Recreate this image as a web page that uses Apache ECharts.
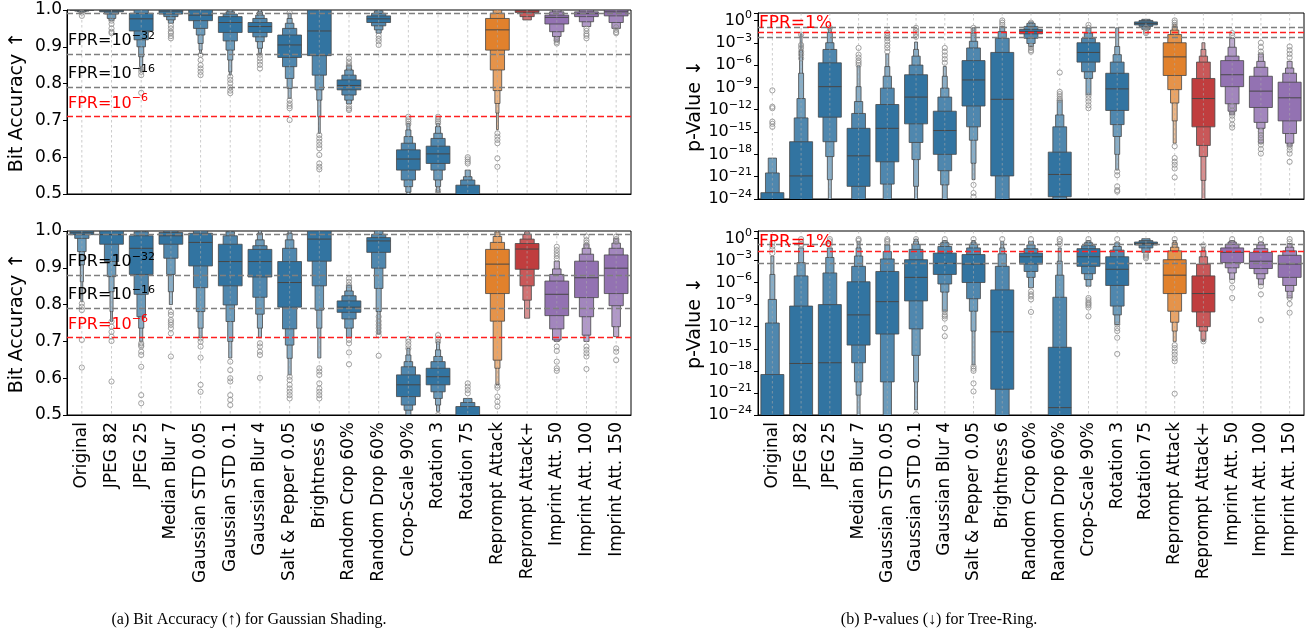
<!DOCTYPE html>
<html>
<head>
<meta charset="utf-8">
<script src="https://cdn.jsdelivr.net/npm/echarts@6/dist/echarts.min.js"></script>
<style>
  html, body { margin: 0; padding: 0; background: #fff; }
  #main { width: 1310px; height: 634px; }
</style>
</head>
<body>
<div id="main"></div>
<script>
var cats = ['Original', 'JPEG 82', 'JPEG 25', 'Median Blur 7', 'Gaussian STD 0.05', 'Gaussian STD 0.1',
  'Gaussian Blur 4', 'Salt & Pepper 0.05', 'Brightness 6', 'Random Crop 60%', 'Random Drop 60%',
  'Crop-Scale 90%', 'Rotation 3', 'Rotation 75', 'Reprompt Attack', 'Reprompt Attack+',
  'Imprint Att. 50', 'Imprint Att. 100', 'Imprint Att. 150'];
// 0 blue, 1 orange, 2 red, 3 purple
var catColor = [0, 0, 0, 0, 0, 0, 0, 0, 0, 0, 0, 0, 0, 0, 1, 2, 3, 3, 3];
var palette = ['#3274a1', '#e1812c', '#c03d3e', '#9372b2'];

// ---- (a) top: Gaussian Shading, bit accuracy ----
var gsCleanMed = [1.0, 0.998, 0.976, 0.997, 0.986, 0.966, 0.955, 0.905, 0.943, 0.795, 0.976, 0.595, 0.609, 0.498, 0.946, 0.998, 0.98, 0.99, 0.995];
var gsCleanLo = [
  [0.999, 0.997, 0.995, 0.994], [0.995, 0.989, 0.977, 0.972], [0.943, 0.919, 0.9, 0.873, 0.846, 0.832],
  [0.989, 0.982, 0.973, 0.964], [0.971, 0.95, 0.932, 0.909, 0.891, 0.882], [0.939, 0.916, 0.891, 0.864, 0.832, 0.823],
  [0.939, 0.927, 0.914, 0.896, 0.882], [0.871, 0.846, 0.814, 0.787, 0.76], [0.876, 0.823, 0.783, 0.755, 0.71, 0.665],
  [0.783, 0.769, 0.755, 0.745], [0.966, 0.957, 0.946, 0.937], [0.565, 0.538, 0.52, 0.505, 0.495],
  [0.583, 0.565, 0.538, 0.52, 0.505], [0.48, 0.47, 0.46, 0.45], [0.891, 0.837, 0.781, 0.746, 0.72, 0.675],
  [0.993, 0.982, 0.973], [0.962, 0.941, 0.928, 0.915], [0.982, 0.968, 0.955], [0.984, 0.966, 0.95]];
var gsCleanHi = [
  [1, 1, 1, 1], [1, 1, 1, 1], [0.991, 1, 1, 1, 1, 1],
  [1, 1, 1, 1], [1, 1, 1, 1, 1, 1], [0.982, 0.989, 0.995, 1, 1, 1],
  [0.966, 0.977, 0.986, 0.995, 1], [0.932, 0.95, 0.964, 0.977, 0.991], [1, 1, 1, 1, 1, 1],
  [0.81, 0.823, 0.837, 0.85], [0.984, 0.991, 0.998, 1], [0.62, 0.638, 0.656, 0.674, 0.692],
  [0.63, 0.651, 0.665, 0.683, 0.692], [0.524, 0.538, 0.547, 0.565], [0.977, 0.991, 1, 1, 1, 1],
  [1, 1, 1], [0.986, 0.995, 1, 1], [0.995, 1, 1], [1, 1, 1]];
var gsCleanOut = [
  [0.993, 0.984], [0.971, 0.962, 0.95, 0.941, 0.937], [0.84, 0.832, 0.823, 0.775],
  [0.957, 0.95, 0.941, 0.937, 0.929, 0.923], [0.878, 0.864, 0.85, 0.841, 0.832, 0.823], [0.819, 0.81, 0.801, 0.79, 0.781, 0.774],
  [0.878, 0.869, 0.86, 0.851, 0.841], [0.993, 0.755, 0.746, 0.739, 0.733, 0.701], [0.66, 0.651, 0.642, 0.633, 0.624, 0.606, 0.583, 0.574, 0.567],
  [0.869, 0.86, 0.853, 0.846, 0.738, 0.732, 0.728], [0.93, 0.922, 0.915, 0.905], [0.71, 0.703, 0.697, 0.69],
  [0.71, 0.703, 0.697, 0.692, 0.51, 0.503], [0.6, 0.594, 0.588, 0.583], [0.665, 0.656, 0.647, 0.638, 0.597, 0.574],
  [], [0.918, 0.913, 0.909], [0.95, 0.943, 0.935, 0.93, 0.923], [0.953, 0.946, 0.94, 0.937]];

// ---- (a) bottom ----
var gsAttMed = [0.995, 0.99, 0.953, 0.987, 0.969, 0.917, 0.917, 0.86, 0.978, 0.793, 0.973, 0.582, 0.604, 0.498, 0.91, 0.951, 0.828, 0.873, 0.899];
var gsAttLo = [
  [0.99, 0.98, 0.944, 0.908, 0.862, 0.808], [0.964, 0.917, 0.876, 0.835, 0.781, 0.754], [0.882, 0.828, 0.767, 0.736, 0.7],
  [0.964, 0.926, 0.882, 0.835, 0.8], [0.905, 0.846, 0.781, 0.736, 0.71], [0.851, 0.799, 0.754, 0.7, 0.655],
  [0.875, 0.82, 0.774, 0.736, 0.71], [0.793, 0.734, 0.69, 0.654, 0.609], [0.918, 0.851, 0.785, 0.736, 0.655],
  [0.779, 0.761, 0.736, 0.71], [0.942, 0.899, 0.844, 0.781, 0.72], [0.55, 0.527, 0.513, 0.5, 0.49],
  [0.582, 0.563, 0.545, 0.527, 0.51], [0.48, 0.47, 0.46], [0.83, 0.755, 0.649, 0.627, 0.583],
  [0.896, 0.851, 0.812, 0.763], [0.77, 0.734, 0.704, 0.7], [0.819, 0.767, 0.717, 0.7], [0.83, 0.797, 0.74, 0.713]];
var gsAttHi = [
  [1, 1, 1, 1, 1, 1], [1, 1, 1, 1, 1, 1], [0.987, 0.998, 1, 1, 1],
  [0.996, 1, 1, 1, 1], [0.994, 1, 1, 1, 1], [0.964, 0.987, 0.998, 1, 1],
  [0.95, 0.96, 0.976, 0.994, 1], [0.917, 0.953, 0.976, 0.994, 1], [1, 1, 1, 1, 1],
  [0.81, 0.824, 0.837, 0.853], [0.982, 0.991, 1, 1, 1], [0.609, 0.631, 0.645, 0.663, 0.681],
  [0.627, 0.645, 0.659, 0.677, 0.699], [0.523, 0.534, 0.545], [0.95, 0.969, 0.985, 0.997, 1],
  [0.966, 0.978, 0.991, 0.998], [0.864, 0.882, 0.897, 0.918], [0.918, 0.937, 0.953, 0.965], [0.935, 0.953, 0.967, 0.98]];
var gsAttOut = [
  [0.803, 0.794, 0.785, 0.704, 0.629], [0.754, 0.74, 0.726, 0.713, 0.701, 0.591], [0.695, 0.69, 0.686, 0.672, 0.663, 0.631, 0.554, 0.532],
  [0.78, 0.772, 0.758, 0.752, 0.745, 0.736, 0.722, 0.659], [0.708, 0.699, 0.686, 0.656, 0.582, 0.563], [0.645, 0.622, 0.6, 0.591, 0.554, 0.541, 0.527],
  [0.695, 0.686, 0.672, 0.663, 0.601], [0.604, 0.595, 0.582, 0.572, 0.563, 0.554, 0.545], [0.627, 0.618, 0.609, 0.586, 0.572, 0.563, 0.554, 0.545],
  [0.871, 0.862, 0.853, 0.704, 0.695, 0.67, 0.638], [0.767, 0.755, 0.745, 0.736, 0.726, 0.717, 0.661], [0.707, 0.699, 0.69, 0.681],
  [0.717, 0.708, 0.699, 0.5], [0.586, 0.577, 0.568, 0.559], [0.998, 0.58, 0.574, 0.55, 0.536, 0.523],
  [0.998], [0.957, 0.948, 0.94, 0.932, 0.925, 0.686, 0.674, 0.645, 0.627, 0.62],
  [0.985, 0.975, 0.968, 0.96, 0.686, 0.677, 0.668, 0.659, 0.625], [0.985, 0.978, 0.97, 0.681, 0.672, 0.649]];

// ---- (b) top: Tree-Ring, log10 p-value ----
var trCleanMed = [-25, -20.9, -8.9, -18.2, -14.5, -10.3, -14.8, -8, -10.6, -1.5, -20.7, -4.3, -9.2, -0.4, -4.9, -10.5, -7.3, -9.5, -10.4];
var trCleanLo = [
  [-30, -30, -30], [-30, -30, -30, -30, -30, -30], [-13, -16.3, -18.3, -21.4, -24.5],
  [-22.3, -26, -28, -30, -30], [-19, -22, -24.5, -26, -28], [-13.9, -16.4, -18.7, -22.3, -24.5],
  [-18, -20.2, -22.1, -24.5, -26], [-11.5, -14.3, -16.1, -19.2, -21.4], [-20.9, -26, -28, -30],
  [-1.8, -2.4, -3.1, -3.5], [-23.7, -25, -27, -29], [-5.6, -6.9, -7.8, -10],
  [-12.1, -14, -15.6, -18, -20.1], [-0.6, -0.8, -1.2], [-7.4, -9.3, -11.1, -13.5, -16.5],
  [-14.3, -16.8, -18.3, -21.5, -25], [-8.9, -11.2, -12.2, -12.7], [-11.7, -13.7, -14.5, -16.5], [-13.5, -15.2, -16.5, -16.9]];
var trCleanHi = [
  [-23.15, -20.5, -18.5], [-16.3, -13.1, -10.5, -7.1, -4, -1.8], [-5.7, -3.9, -3, -1.6, -1.1],
  [-14.5, -12.5, -10.9, -8.9, -6.1], [-11.3, -9.1, -7.5, -6.2, -4.5], [-7.3, -6, -4.8, -3.9, -2.9],
  [-12.2, -10.3, -9.1, -7.5, -6.2], [-5.4, -3.7, -2.8, -1.7, -1.0], [-4.3, -2.4, -1.5, -0.8],
  [-1.2, -0.8, -0.4, -0.2], [-17.7, -14.3, -12.7, -10.7], [-3, -2.4, -1.7, -1.0],
  [-7.1, -5.6, -4.6, -3.5, -1.0], [-0.2, 0, 0.15], [-3, -1.9, -1.3, -0.8, -0.5],
  [-7.8, -5.6, -4.8, -3.9, -3], [-5.4, -4.8, -3.6, -2.4], [-7.5, -6.3, -5.5, -4.5], [-8.3, -7.1, -6.4, -5.5]];
var trCleanOut = [
  [-9.4, -11.6, -11.8, -13.6, -13.9, -14.3], [-1.9, -3.3, -3.7, -4.2, -4.6, -5.1], [-1.0],
  [-3.7, -4.6, -5, -5.4, -5.7, -6], [-1.7, -2.1, -2.4, -2.8, -3.3, -3.7, -4.2], [-1.0, -1.4, -1.8, -2.2],
  [-3.7, -4.2, -4.7, -5.2, -5.7], [-1.0, -1.3, -1.7, -22.1, -23.2, -23.7], [0.0, -0.3, -0.6],
  [-0.3, -3.4, -3.7, -4, -4.2], [-7.0, -9.6, -9.9, -10.2, -10.5, -10.7], [-0.6, -1.0, -10.1, -10.5, -10.9, -11.4, -11.8],
  [-20.3, -20.8, -22.3, -22.8, -23], [-1.0, -1.3, -1.5, -1.7], [0.0, -0.3, -0.6, -16.9, -18.5, -19.0, -19.4, -19.9, -21.1],
  [], [-1.7, -2.0, -11.5, -12.1, -12.8, -13.3, -14, -14.4],
  [-3.0, -3.6, -4.2, -4.6, -14.9, -15.4, -15.8, -16.3, -16.7, -17.3, -17.9], [-3.5, -4.0, -4.5, -5.0, -17, -17.4, -17.9, -19]];

// ---- (b) bottom ----
var trAttMed = [-25, -17, -16.9, -10.4, -8.6, -5.3, -3.4, -3.5, -12.7, -2.5, -23, -2.5, -4.2, -0.7, -5, -7.5, -1.9, -3.1, -3.5];
var trAttLo = [
  [-30, -30, -30, -30, -30], [-30, -30, -30, -30], [-30, -30, -30, -30],
  [-14.5, -16.9, -19.5, -21.3, -24.5], [-13, -19.5, -24.5, -28], [-8.5, -12.3, -15.9, -19.5, -23.3],
  [-4.9, -6.2, -7.3, -9.9], [-6, -8.2, -9.9, -12.6, -17.2], [-20.5, -26, -28, -30, -30],
  [-3.5, -4.5, -5.3, -6.7], [-25, -27, -28, -29, -30], [-3.8, -4.8, -5.6, -6.5],
  [-6.4, -9.2, -10.4, -11.7], [-0.9, -1.3, -1.9], [-7.5, -9.9, -11.4, -12.6, -14],
  [-10, -12, -12.6, -13.8, -14], [-3.3, -4, -4.7, -5.6], [-4.1, -4.8, -5.5, -6.3], [-5.3, -6.4, -7.2, -8.1]];
var trAttHi = [
  [-18.5, -11.5, -8.3, -4.9, -2.4], [-9.2, -5.1, -3.3, -1.3], [-9, -4.7, -2.6, -1.3],
  [-5.9, -3.8, -2.4, -1.3, -0.4], [-4.5, -2.8, -1.8, -0.9], [-2.9, -1.5, -0.8, -0.4, -0.1],
  [-2, -1.1, -0.6, -0.3], [-2.2, -1.3, -0.8, -0.5, -0.3], [-7, -3.8, -2.1, -1.3, -0.4],
  [-2, -1.4, -0.9, -0.4], [-14.8, -8, -5, -3.1, -1.3], [-1.4, -1, -0.6, -0.3],
  [-2.5, -1.6, -1.1, -0.6], [-0.5, -0.3, -0.05], [-2.9, -1.7, -1.2, -0.6, -0.3],
  [-5.1, -3.5, -2.5, -1.7, -1.2], [-1.3, -0.8, -0.5, -0.3], [-1.9, -1.4, -0.9, -0.5], [-2.3, -1.7, -1.2, -0.7]];
var trAttOut = [
  [-0.6, -1.1, -1.5, -2.0], [-0.1, -0.5, -0.8, -1.0], [-0.1, -0.4, -0.8],
  [-0.1, -0.3], [-0.1, -0.3, -0.5], [-0.1, -23.9],
  [-0.1, -10, -10.4, -10.6, -10.9, -12.2, -13.3], [-0.1, -17.4, -17.7, -18, -19.7, -20.8], [-0.1],
  [-0.1, -7.2, -7.6, -7.9, -8.3, -10], [-0.1, -0.4, -0.8], [-0.1, -8.1, -8.4, -8.7, -8.9, -9.1, -9.4, -10.6],
  [-0.1, -11.7, -12.2, -12.6, -13.5, -15.7], [-2.1, -2.3, -2.5, -2.7], [-0.1, -14.5, -14.9, -15.4, -15.8, -16.3, -16.7, -21.1],
  [-0.95, -14.0], [-0.1, -5.8, -6.7, -8.1], [-0.1, -6.5, -7.6, -11.1], [-0.1, -0.5, -8.1, -8.9, -10.1]];

// threshold lines
var gsGray = [0.986, 0.875, 0.79];
var gsRed = 0.707;
var trCleanGray = [-0.9, -2.3];
var trCleanRed = -1.65;
var trAttGray = [-0.86, -3.35];
var trAttRed = -1.81;

function lighten(hex, k) {
  var t = Math.min(0.14 * k, 0.55);
  var r = parseInt(hex.substr(1, 2), 16), g = parseInt(hex.substr(3, 2), 16), b = parseInt(hex.substr(5, 2), 16);
  r = Math.round(r + (255 - r) * t); g = Math.round(g + (255 - g) * t); b = Math.round(b + (255 - b) * t);
  return 'rgb(' + r + ',' + g + ',' + b + ')';
}

function boxen(med, lo, hi, out) {
  return function (params, api) {
    var i = api.value(0);
    var cs = params.coordSys;
    var cw = api.size([1, 0])[0];
    var cx = api.coord([i, 0])[0];
    var base = palette[catColor[i]];
    var kids = [];
    for (var k = lo[i].length - 1; k >= 0; k--) {
      var w = Math.max(cw * 0.8 * Math.pow(0.6, k), 1.2);
      var yt = api.coord([i, hi[i][k]])[1];
      var yb = api.coord([i, lo[i][k]])[1];
      kids.push({
        type: 'rect',
        shape: { x: cx - w / 2, y: yt, width: w, height: yb - yt },
        style: { fill: lighten(base, k), stroke: '#474747', lineWidth: 0.8 }
      });
    }
    var ym = api.coord([i, med[i]])[1];
    var mw = cw * 0.8;
    kids.push({
      type: 'line',
      shape: { x1: cx - mw / 2, y1: ym, x2: cx + mw / 2, y2: ym },
      style: { stroke: '#474747', lineWidth: 1 }
    });
    for (var j = 0; j < out[i].length; j++) {
      var yo = api.coord([i, out[i][j]])[1];
      kids.push({
        type: 'circle',
        shape: { cx: cx, cy: yo, r: 2.6 },
        style: { fill: 'none', stroke: '#8a8a8a', lineWidth: 0.8 }
      });
    }
    // vertical grid line, drawn over the boxes
    kids.push({
      type: 'line',
      shape: { x1: cx, y1: cs.y, x2: cx, y2: cs.y + cs.height },
      style: { stroke: 'rgba(170,170,170,0.75)', lineWidth: 0.8, lineDash: [2.5, 2.5] }
    });
    return { type: 'group', children: kids };
  };
}

function fprLines(grays, red, labels, redLabel) {
  var data = [];
  for (var i = 0; i < grays.length; i++) {
    data.push({
      yAxis: grays[i],
      lineStyle: { color: '#7f7f7f', type: [6, 3], width: 1.3 },
      label: labels[i] ? {
        show: true, position: 'insideStartTop', distance: [1, 2],
        formatter: labels[i],
        rich: {
          b: { fontSize: 16, color: '#000', fontFamily: 'DejaVu Sans' },
          s: { fontSize: 11, color: '#000', fontFamily: 'DejaVu Sans', padding: [0, 0, 11, 0] }
        }
      } : { show: false }
    });
  }
  data.push({
    yAxis: red,
    lineStyle: { color: '#ff2020', type: [6, 3], width: 1.3 },
    label: {
      show: true, position: 'insideStartTop', distance: redLabel.d,
      formatter: redLabel.text,
      rich: {
        b: { fontSize: redLabel.size, color: '#ff0000', fontFamily: 'DejaVu Sans' },
        s: { fontSize: 11, color: '#ff0000', fontFamily: 'DejaVu Sans', padding: [0, 0, 11, 0] }
      }
    }
  });
  return { silent: true, symbol: ['none', 'none'], animation: false, data: data };
}

var grids = [
  { left: 67, top: 10, width: 564, height: 184 },
  { left: 67, top: 231, width: 564, height: 184 },
  { left: 758, top: 13, width: 546, height: 186 },
  { left: 758, top: 231, width: 546, height: 184 }
];

var xAxes = [], yAxes = [];
for (var g = 0; g < 4; g++) {
  grids[g].show = true;
  grids[g].borderColor = '#000';
  grids[g].borderWidth = 1;
  xAxes.push({
    gridIndex: g, type: 'category', data: cats, boundaryGap: true,
    axisLine: { onZero: false, lineStyle: { color: '#000', width: 1 } },
    axisTick: { alignWithLabel: true, length: 4, lineStyle: { color: '#000' } },
    axisLabel: { show: g === 1 || g === 3, rotate: 90, interval: 0, fontSize: 17, color: '#000', fontFamily: 'DejaVu Sans', margin: 7 },
    splitLine: { show: false }
  });
}
for (var g2 = 0; g2 < 2; g2++) {
  yAxes.push({
    gridIndex: g2, type: 'value', min: 0.5, max: 1.0, interval: 0.1,
    name: 'Bit Accuracy ↑', nameLocation: 'middle', nameGap: 40,
    nameTextStyle: { fontSize: 19, color: '#000', fontFamily: 'DejaVu Sans' },
    axisLine: { show: true, lineStyle: { color: '#000' } },
    axisTick: { show: true, length: 4, lineStyle: { color: '#000' } },
    axisLabel: { fontSize: 17, color: '#000', fontFamily: 'DejaVu Sans', margin: 5, formatter: function (v) { return v.toFixed(1); } },
    splitLine: { show: false }
  });
}
for (var g3 = 2; g3 < 4; g3++) {
  yAxes.push({
    gridIndex: g3, type: 'value', min: -24, max: 1, interval: 3,
    name: 'p-Value ↓', nameLocation: 'middle', nameGap: 50,
    nameTextStyle: { fontSize: 19, color: '#000', fontFamily: 'DejaVu Sans' },
    axisLine: { show: true, lineStyle: { color: '#000' } },
    axisTick: { show: true, length: 4, lineStyle: { color: '#000' } },
    axisLabel: {
      fontSize: 16, color: '#000', fontFamily: 'DejaVu Sans', margin: 6,
      formatter: function (v) {
        if (v > 0) return '';
        return '{b|10}{s|' + (v === 0 ? '0' : '−' + (-v)) + '}';
      },
      rich: {
        b: { fontSize: 16, color: '#000', fontFamily: 'DejaVu Sans' },
        s: { fontSize: 11, color: '#000', fontFamily: 'DejaVu Sans', padding: [0, 0, 10, 0] }
      }
    },
    splitLine: { show: false }
  });
}

var idx = cats.map(function (c, i) { return [i]; });
var panels = [
  [gsCleanMed, gsCleanLo, gsCleanHi, gsCleanOut],
  [gsAttMed, gsAttLo, gsAttHi, gsAttOut],
  [trCleanMed, trCleanLo, trCleanHi, trCleanOut],
  [trAttMed, trAttLo, trAttHi, trAttOut]
];
var gsLabels = [null, '{b|FPR=10}{s|−32}', '{b|FPR=10}{s|−16}'];
var marks = [
  fprLines(gsGray, gsRed, gsLabels, { text: '{b|FPR=10}{s|−6}', size: 16, d: [1, 2] }),
  fprLines(gsGray, gsRed, gsLabels, { text: '{b|FPR=10}{s|−6}', size: 16, d: [1, 2] }),
  fprLines(trCleanGray, trCleanRed, [null, null], { text: '{b|FPR=1%}', size: 17, d: [1, 1] }),
  fprLines(trAttGray, trAttRed, [null, null], { text: '{b|FPR=1%}', size: 17, d: [1, 1] })
];
var series = [];
for (var p = 0; p < 4; p++) {
  series.push({
    type: 'custom', xAxisIndex: p, yAxisIndex: p, clip: true,
    data: idx,
    renderItem: boxen(panels[p][0], panels[p][1], panels[p][2], panels[p][3]),
    markLine: marks[p]
  });
}

var myChart = echarts.init(document.getElementById('main'));
myChart.setOption({
  animation: false,
  backgroundColor: '#fff',
  textStyle: { fontFamily: 'DejaVu Sans' },
  grid: grids,
  xAxis: xAxes,
  yAxis: yAxes,
  series: series,
  graphic: [
    { type: 'text', x: 249, y: 620, style: { text: '(a) Bit Accuracy (↑) for Gaussian Shading.', font: '16px "Liberation Serif"', fill: '#000', align: 'center', verticalAlign: 'middle' } },
    { type: 'text', x: 939, y: 620, style: { text: '(b) P-values (↓) for Tree-Ring.', font: '16px "Liberation Serif"', fill: '#000', align: 'center', verticalAlign: 'middle' } }
  ]
});
</script>
</body>
</html>
